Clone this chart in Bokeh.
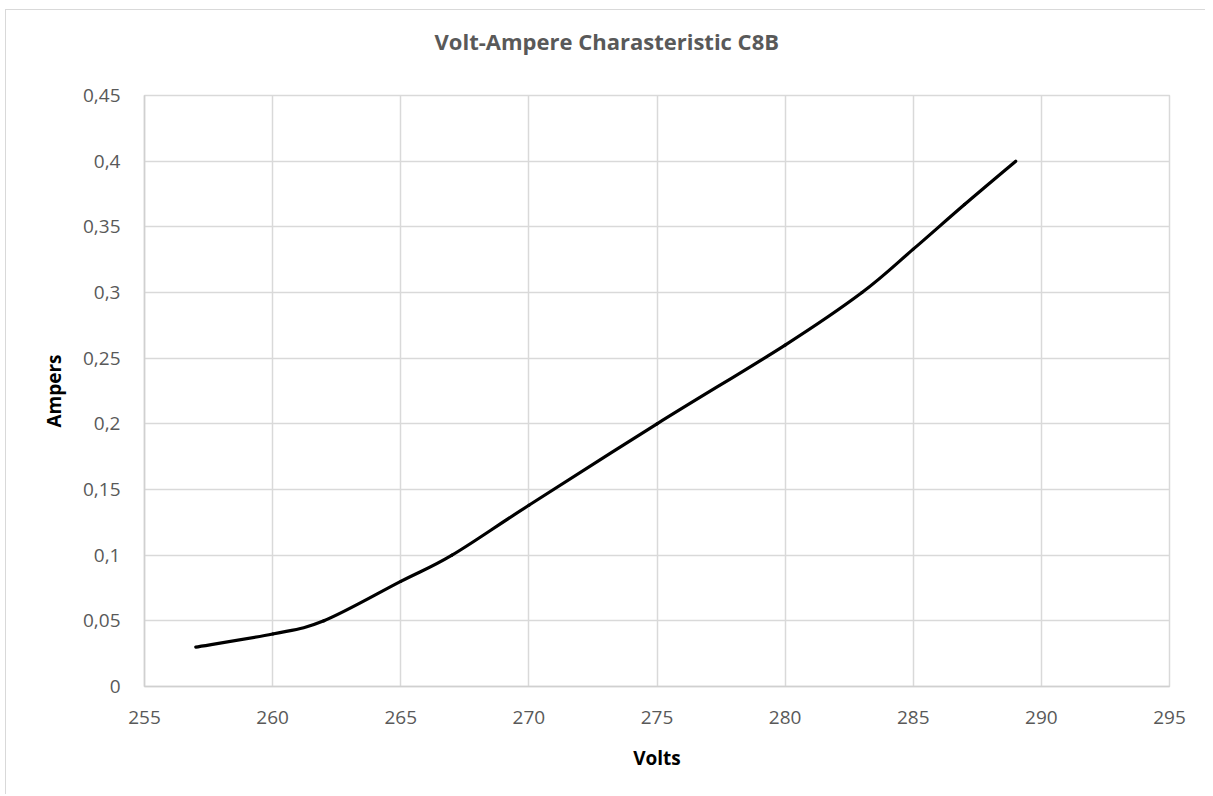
from bokeh.plotting import figure
from bokeh.models import FixedTicker, Range1d, ColumnDataSource, Title
from bokeh.embed import file_html
from bokeh.resources import INLINE

# Data
volts = [257, 260, 262, 265, 267, 270, 275, 280, 283, 285, 287, 289]
ampers = [0.03, 0.04, 0.05, 0.08, 0.10, 0.138, 0.20, 0.26, 0.30, 0.333, 0.367, 0.40]

x_ticks = [255, 260, 265, 270, 275, 280, 285, 290, 295]
y_ticks = [0, 0.05, 0.1, 0.15, 0.2, 0.25, 0.3, 0.35, 0.4, 0.45]
y_tick_labels = ["0", "0,05", "0,1", "0,15", "0,2", "0,25", "0,3", "0,35", "0,4", "0,45"]

title_text = "Volt-Ampere Charasteristic C8B"
x_label = "Volts"
y_label = "Ampers"

FONT = "Open Sans"

p = figure(width=1200, height=785, output_backend="svg", toolbar_location=None,
           x_range=Range1d(255, 295), y_range=Range1d(0, 0.45),
           min_border_left=138, min_border_right=37, min_border_top=85, min_border_bottom=109)
p.margin = (9, 0, 0, 5)
p.styles = {"border-top": "1px solid #d9d9d9", "border-left": "1px solid #d9d9d9"}

# smoothed line (Excel-like Catmull-Rom -> cubic Bezier)
n = len(volts)
x0, y0, x1, y1, cx0, cy0, cx1, cy1 = [], [], [], [], [], [], [], []
for i in range(n - 1):
    xm1, ym1 = (volts[i - 1], ampers[i - 1]) if i > 0 else (volts[i], ampers[i])
    xp2, yp2 = (volts[i + 2], ampers[i + 2]) if i + 2 < n else (volts[i + 1], ampers[i + 1])
    x0.append(volts[i]); y0.append(ampers[i])
    x1.append(volts[i + 1]); y1.append(ampers[i + 1])
    cx0.append(volts[i] + (volts[i + 1] - xm1) / 6)
    cy0.append(ampers[i] + (ampers[i + 1] - ym1) / 6)
    cx1.append(volts[i + 1] - (xp2 - volts[i]) / 6)
    cy1.append(ampers[i + 1] - (yp2 - ampers[i]) / 6)

src = ColumnDataSource(dict(x0=x0, y0=y0, x1=x1, y1=y1, cx0=cx0, cy0=cy0, cx1=cx1, cy1=cy1))
p.bezier(x0="x0", y0="y0", x1="x1", y1="y1", cx0="cx0", cy0="cy0", cx1="cx1", cy1="cy1",
         source=src, line_color="black", line_width=3.2, line_cap="round")

# chart title (built-in title, outer) + invisible spacer between it and the plot
p.title.text = title_text
p.title.align = "left"
p.title.offset = 290
p.title.standoff = 0
p.title.text_font = FONT
p.title.text_font_size = "22px"
p.title.text_font_style = "bold"
p.title.text_color = "#595959"
spacer = Title(text=" ", text_font_size="1px", standoff=37)
p.add_layout(spacer, "above")

# axes
for ax in (p.xaxis[0], p.yaxis[0]):
    ax.axis_line_color = "#d0d0d0"
    ax.axis_line_width = 1.5
    ax.major_tick_line_color = None
    ax.minor_tick_line_color = None
    ax.major_label_text_font = FONT
    ax.major_label_text_font_size = "19px"
    ax.major_label_text_color = "#595959"
    ax.axis_label_text_font = FONT
    ax.axis_label_text_font_size = "19px"
    ax.axis_label_text_font_style = "bold"
    ax.axis_label_text_color = "black"
    ax.major_label_standoff = 18

p.xaxis.ticker = FixedTicker(ticks=x_ticks)
p.yaxis.ticker = FixedTicker(ticks=y_ticks)
p.yaxis.major_label_overrides = {t: l for t, l in zip(y_ticks, y_tick_labels)}
p.xaxis.axis_label = x_label
p.yaxis.axis_label = y_label
p.xaxis.axis_label_standoff = 18
p.yaxis.axis_label_standoff = 13

p.xgrid.ticker = FixedTicker(ticks=x_ticks)
p.ygrid.ticker = FixedTicker(ticks=y_ticks)
p.grid.grid_line_color = "#d9d9d9"
p.grid.grid_line_width = 1.5
p.outline_line_color = "#d9d9d9"
p.outline_line_width = 1.5
p.background_fill_color = "white"
p.border_fill_color = "white"

open("out.html", "w").write(file_html(p, INLINE))
